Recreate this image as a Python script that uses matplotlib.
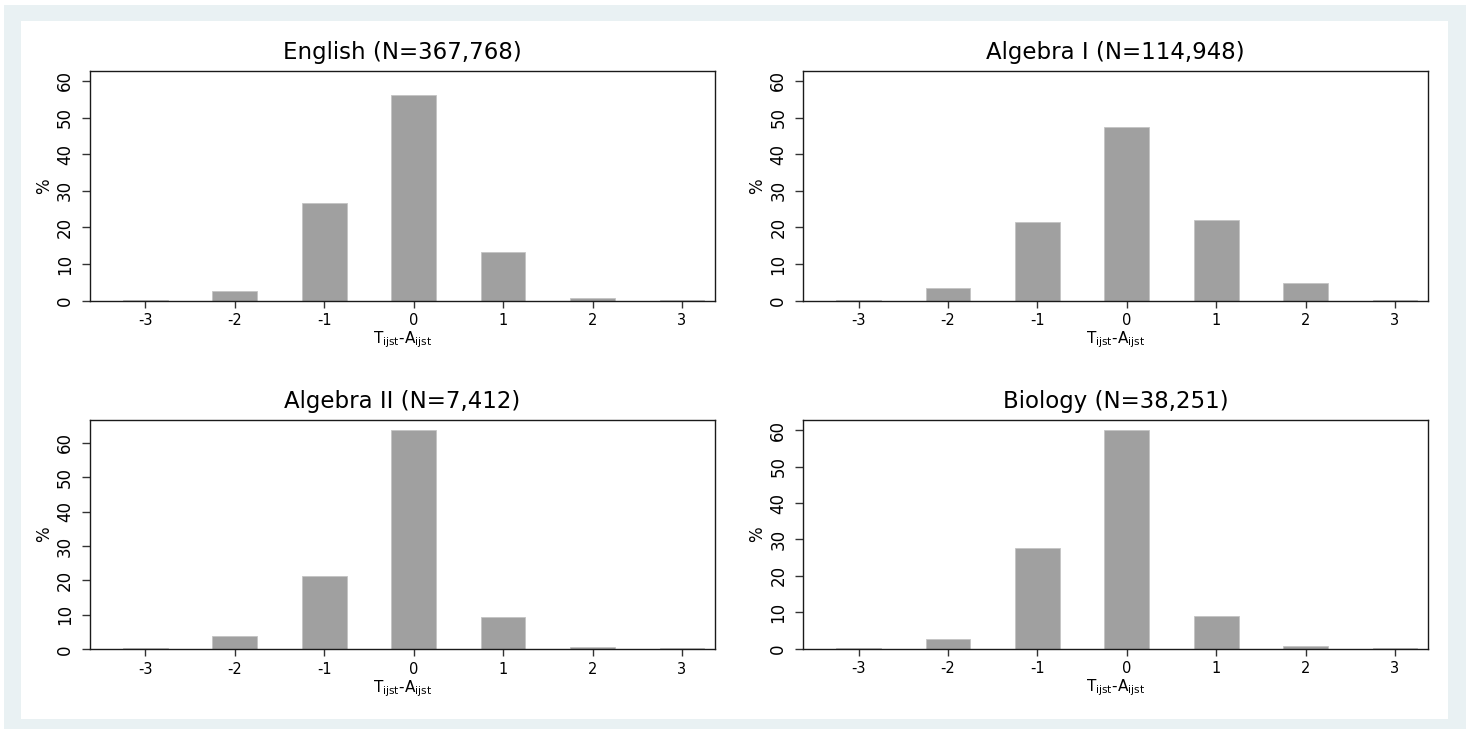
import matplotlib
matplotlib.use("Agg")
import matplotlib.pyplot as plt
from matplotlib.patches import Rectangle

# ---- data ----
categories = [-3, -2, -1, 0, 1, 2, 3]
titles = ["English (N=367,768)", "Algebra I (N=114,948)",
          "Algebra II (N=7,412)", "Biology (N=38,251)"]
english = [0.2, 2.7, 26.6, 56.2, 13.2, 0.8, 0.2]
algebra1 = [0.1, 3.6, 21.6, 47.4, 22.1, 4.8, 0.1]
algebra2 = [0.5, 3.9, 21.3, 63.7, 9.4, 0.8, 0.3]
biology = [0.2, 2.7, 27.7, 60.1, 9.0, 0.7, 0.3]
series = [english, algebra1, algebra2, biology]
yticks = [0, 10, 20, 30, 40, 50, 60]
ytop = [62.7, 62.7, 66.8, 62.8]

W, H = 1466, 729
fig = plt.figure(figsize=(W / 100, H / 100), dpi=100, facecolor="white")

# background frame (pixel coords from top-left)
def px_rect(x0, y0, x1, y1, color):
    fig.patches.append(Rectangle((x0 / W, 1 - y1 / H), (x1 - x0) / W, (y1 - y0) / H,
                                 transform=fig.transFigure, facecolor=color,
                                 edgecolor="none", zorder=-10))

px_rect(4, 5, W, H, "#e9f1f3")
px_rect(20.7, 20.7, 1447.7, 719, "white")

# axes boxes in pixels: (left, top, right, bottom)
boxes = [(90, 71, 715, 300.7), (803.3, 71, 1428, 300.7),
         (90, 419.5, 715, 649.3), (803.3, 420, 1428, 648.7)]

for i, (l, t, r, b) in enumerate(boxes):
    ax = fig.add_axes([l / W, 1 - b / H, (r - l) / W, (b - t) / H])
    ax.bar(categories, series[i], width=0.5, color="#a0a0a0",
           edgecolor="#c4c4c4", linewidth=0.6)
    ax.set_xlim(-3.62, 3.37)
    ax.set_ylim(0, ytop[i])
    ax.set_xticks(categories)
    ax.set_xticklabels([str(c) for c in categories], fontsize=10.5)
    ax.set_yticks(yticks)
    ax.set_yticklabels([str(v) for v in yticks], fontsize=12, rotation=90,
                       va="center")
    ax.tick_params(axis="x", length=5, width=1, pad=4, color="#333333")
    ax.tick_params(axis="y", length=6, width=1, pad=5.5, color="#333333")
    for s in ax.spines.values():
        s.set_linewidth(1.0)
        s.set_color("#1a1a1a")
    ax.set_title(titles[i], fontsize=16.5, pad=8.5)
    ax.set_ylabel("%", fontsize=12, labelpad=2)
    ax.set_xlabel(r"T$_{\mathregular{ijst}}$-A$_{\mathregular{ijst}}$",
                  fontsize=11, labelpad=1)

fig.savefig("out.png", dpi=100, facecolor="white")
